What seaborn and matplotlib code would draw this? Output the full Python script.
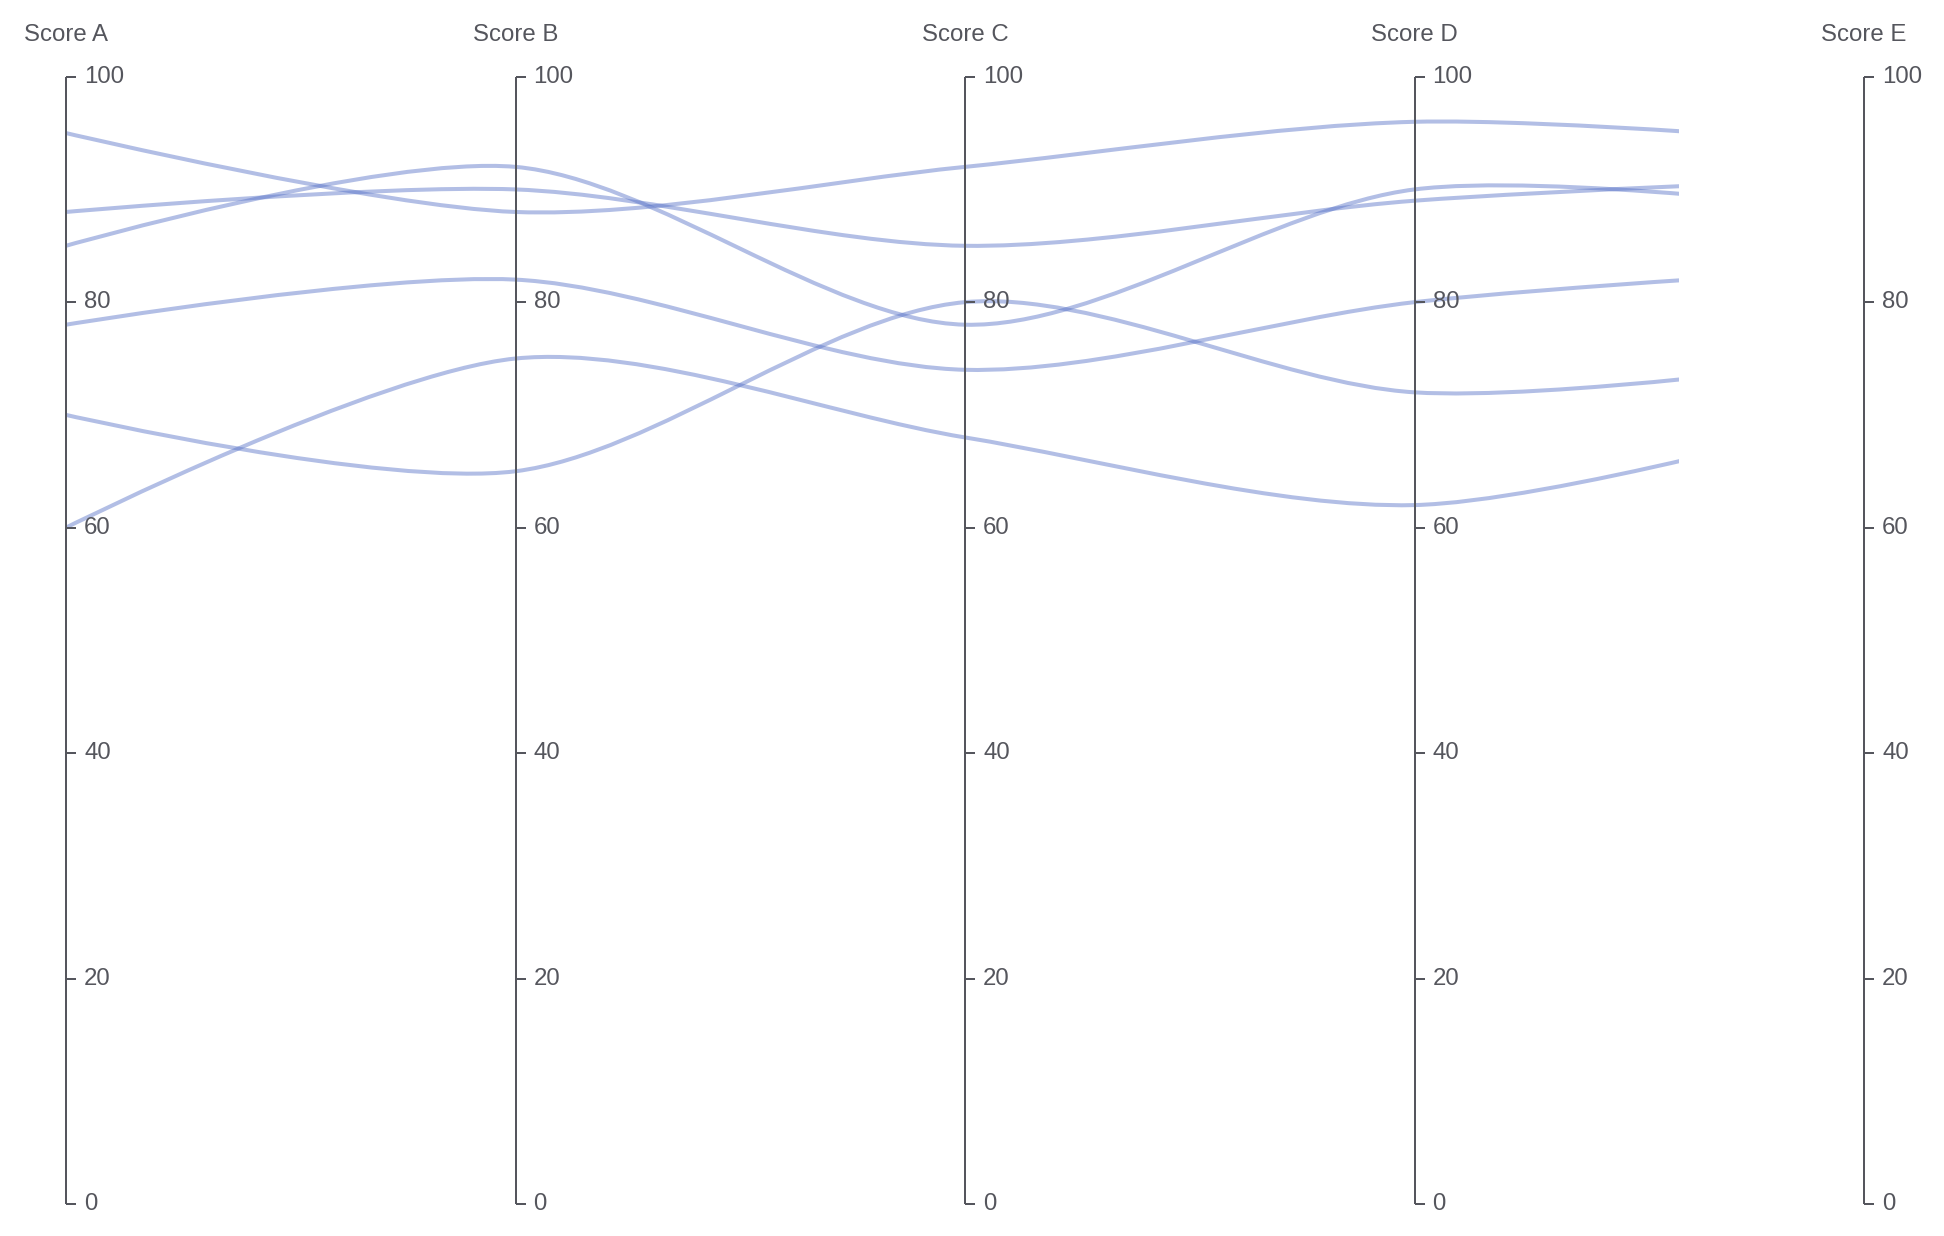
import numpy as np
import pandas as pd
import matplotlib
matplotlib.use("Agg")
import matplotlib.pyplot as plt
import seaborn as sns
from matplotlib.path import Path
from matplotlib.patches import PathPatch, Rectangle
from matplotlib.markers import TICKRIGHT

# Parallel coordinates data (one row per record)
dimensions = ["Score A", "Score B", "Score C", "Score D", "Score E"]
record_1 = [95, 88, 92, 96, 94]
record_2 = [88, 90, 85, 89, 91]
record_3 = [85, 92, 78, 90, 88]
record_4 = [78, 82, 74, 80, 83]
record_5 = [70, 65, 80, 72, 75]
record_6 = [60, 75, 68, 62, 70]
axis_ticks = [0, 20, 40, 60, 80, 100]

records = [record_1, record_2, record_3, record_4, record_5, record_6]
df = pd.DataFrame(records, columns=dimensions)

SMOOTH = 0.3          # bezier smoothness of the curves
REVEAL = 3.588        # lines are only drawn up to this x (clip)
LINE_COLOR = "#5470c6"
AXIS_COLOR = "#55565d"

sns.set_theme(style="white")
plt.rcParams["font.family"] = ["Liberation Sans", "DejaVu Sans"]

W, H = 1944, 1236
fig = plt.figure(figsize=(W / 100, H / 100), dpi=100)
ax = fig.add_axes([66 / W, (H - 1204) / H, (1864 - 66) / W, (1204 - 76.7) / H])
ax.set_xlim(0, len(dimensions) - 1)
ax.set_ylim(0, 100)
ax.set_axis_off()


def smooth_path(xs, ys):
    """Cubic bezier through the points, control points computed in pixel space."""
    pts = ax.transData.transform(np.column_stack([xs, ys]))
    n = len(pts)
    cps = [pts[0]]
    for i in range(1, n - 1):
        prev_p, p, next_p = pts[i - 1], pts[i], pts[i + 1]
        v = (next_p - prev_p) * SMOOTH
        d0 = np.linalg.norm(p - prev_p)
        d1 = np.linalg.norm(p - next_p)
        s = d0 + d1
        cps.append(p - v * d0 / s)
        cps.append(p + v * d1 / s)
    cps.append(pts[-1])
    verts = [pts[0]]
    codes = [Path.MOVETO]
    for i in range(n - 1):
        verts += [cps[2 * i], cps[2 * i + 1], pts[i + 1]]
        codes += [Path.CURVE4] * 3
    inv = ax.transData.inverted()
    return Path(inv.transform(np.array(verts)), codes)


xs = np.arange(len(dimensions))
clip = Rectangle((-0.5, -20), REVEAL + 0.5, 140, transform=ax.transData)
for _, row in df.iterrows():
    patch = PathPatch(smooth_path(xs, row.values.astype(float)), facecolor="none",
                      edgecolor=LINE_COLOR, alpha=0.45, lw=2.9, capstyle="butt",
                      joinstyle="round", zorder=2)
    ax.add_patch(patch)
    patch.set_clip_path(clip)

# Axes, ticks and labels for each dimension
for i, name in enumerate(dimensions):
    ax.plot([i, i], [0, 100], color=AXIS_COLOR, lw=1.44, clip_on=False, zorder=3,
            solid_capstyle="butt")
    ax.plot([i] * len(axis_ticks), axis_ticks, linestyle="none", marker=TICKRIGHT,
            markersize=7.2, markeredgewidth=1.44, color=AXIS_COLOR, clip_on=False, zorder=3)
    for t in axis_ticks:
        ax.annotate(str(t), (i, t), xytext=(13, 0), textcoords="offset points",
                    ha="left", va="center", fontsize=17.3, color=AXIS_COLOR,
                    annotation_clip=False)
    ax.annotate(name, (i, 100), xytext=(0, 30), textcoords="offset points",
                ha="center", va="center", fontsize=17.3, color=AXIS_COLOR,
                annotation_clip=False)

fig.savefig("out.png", dpi=100, facecolor="white")
